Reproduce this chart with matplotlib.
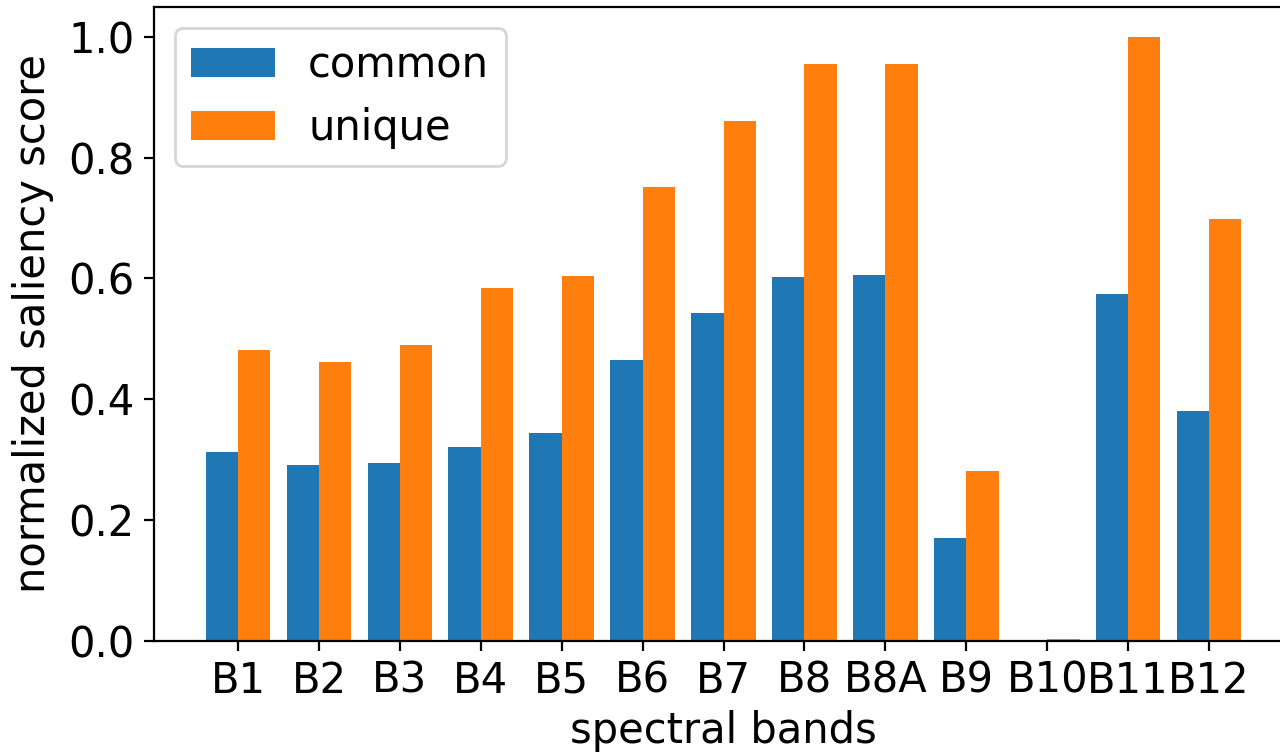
import numpy as np
import matplotlib
matplotlib.use("Agg")
import matplotlib.pyplot as plt

# saliency per Sentinel-2 band
bands = ['B1', 'B2', 'B3', 'B4', 'B5', 'B6', 'B7', 'B8', 'B8A', 'B9', 'B10', 'B11', 'B12']
common = [0.313, 0.290, 0.294, 0.320, 0.343, 0.464, 0.542, 0.603, 0.605, 0.170, 0.0, 0.574, 0.380]
unique = [0.482, 0.461, 0.490, 0.584, 0.604, 0.751, 0.860, 0.955, 0.955, 0.280, 0.002, 1.0, 0.698]

plt.rcParams['font.size'] = 15

fig = plt.figure(figsize=(6.4, 3.765), dpi=200)
ax = fig.add_axes([0.1203, 0.1494, 0.89, 0.8417])

x = np.arange(len(bands))
w = 0.4
ax.bar(x - w / 2, common, w, label='common')
ax.bar(x + w / 2, unique, w, label='unique')

ax.set_xticks(x)
ax.set_xticklabels(bands)
ax.set_xlabel('spectral bands', labelpad=3)
ax.set_ylabel('normalized saliency score', labelpad=5)
ax.legend(loc='upper left')

fig.savefig('out.png', dpi=200)
